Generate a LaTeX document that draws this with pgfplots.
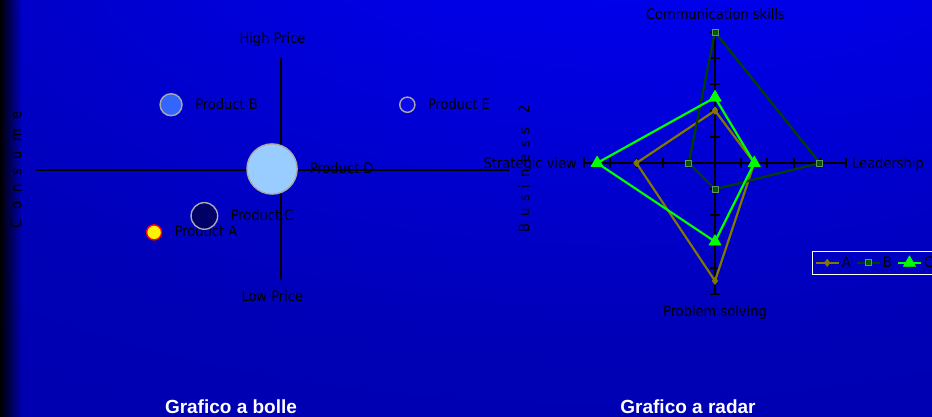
\documentclass[border=0pt]{standalone}
\usepackage{fontspec}
\setmainfont{DejaVu Sans Condensed}
\newfontfamily\titlefont{Liberation Sans}
\usepackage{pgfplots}
\pgfplotsset{compat=1.18}
\usetikzlibrary{fadings}
\definecolor{bgA}{RGB}{0,0,255}
\definecolor{bgB}{RGB}{0,0,230}
\definecolor{bgC}{RGB}{0,0,182}
\definecolor{bgD}{RGB}{0,0,156}
\definecolor{oliveA}{RGB}{128,120,0}
\definecolor{darkB}{RGB}{0,64,0}
\definecolor{markB}{RGB}{0,90,0}
\definecolor{markBd}{RGB}{100,150,100}
\definecolor{greenC}{RGB}{0,255,0}
\definecolor{bubB}{RGB}{51,102,255}
\definecolor{bubC}{RGB}{0,0,102}
\definecolor{bubD}{RGB}{153,204,255}
\definecolor{bubE}{RGB}{10,10,235}
\definecolor{bubedge}{RGB}{170,170,170}
\pgfdeclareradialshading{bgshade}{\pgfpoint{14bp}{50bp}}{color(0bp)=(bgA); color(18bp)=(bgB); color(42bp)=(bgC); color(85bp)=(bgD)}
\tikzfading[name=myfade, left color=transparent!0, right color=transparent!100]
\newcommand{\hs}{\hspace{9.2pt}}
\newcommand{\hb}{\hspace{6.8pt}}
\begin{document}
\begin{tikzpicture}[x=1pt,y=1pt,font=\fontsize{14.5}{17}\selectfont]
\useasboundingbox (0,0) rectangle (932,417);
\clip (0,0) rectangle (932,417);
\shade[shading=bgshade] (0,0) rectangle (932,417);
\fill[black, path fading=myfade] (0,0) rectangle (22,417);

% ---------- bubble chart ----------
\begin{axis}[at={(36pt,137pt)}, anchor=south west, scale only axis,
  width=473pt, height=222pt,
  xmin=-11.04, xmax=10.27, ymin=-4.955, ymax=5.045,
  axis lines=center, axis line style={-, line width=1.8pt, black},
  xtick=\empty, ytick=\empty, clip=false,
  nodes near coords style={anchor=base west, inner sep=0pt, yshift=-4.4pt, text=black}]
\addplot[only marks, mark=*, mark size=7.5pt, mark options={draw=red, fill=yellow, line width=1.4pt},
  nodes near coords={Product A}, nodes near coords style={xshift=20pt}] coordinates {(-5.72,-2.81)};
\addplot[only marks, mark=*, mark size=11pt, mark options={draw=bubedge, fill=bubB, line width=1.4pt},
  nodes near coords={Product B}, nodes near coords style={xshift=23.5pt}] coordinates {(-4.955,2.94)};
\addplot[only marks, mark=*, mark size=13.3pt, mark options={draw=bubedge, fill=bubC, line width=1.4pt},
  nodes near coords={Product C}, nodes near coords style={xshift=25.7pt}] coordinates {(-3.455,-2.07)};
\addplot[only marks, mark=*, mark size=25.1pt, mark options={draw=bubedge, fill=bubD, line width=1.4pt},
  nodes near coords={Product D}, nodes near coords style={xshift=37pt}] coordinates {(-0.405,0.045)};
\addplot[only marks, mark=*, mark size=7.6pt, mark options={draw=bubedge, fill=bubE, line width=1.4pt},
  nodes near coords={Product E}, nodes near coords style={xshift=20pt}] coordinates {(5.69,2.94)};
\end{axis}

% ---------- radar chart ----------
\begin{axis}[at={(584pt,123pt)}, anchor=south west, scale only axis,
  width=262pt, height=262pt,
  xmin=-5, xmax=5, ymin=-5, ymax=5,
  axis lines=center, axis line style={-, line width=2pt, black},
  xtick={-5,-4,-3,-2,-1,1,2,3,4,5}, ytick={-5,-4,-3,-2,-1,1,2,3,4,5},
  xticklabels={}, yticklabels={},
  major tick length=10pt, tick align=center, tick style={black, line width=2pt},
  clip=false,
  legend columns=-1,
  legend style={at={(0.870,0.166)}, anchor=north west, draw=white, line width=1.4pt, fill=none,
    inner xsep=2pt, inner ysep=3.5pt, font=\fontsize{14.5}{16}\selectfont,
    /tikz/every even column/.append style={column sep=3pt}},
  legend image code/.code={\draw[mark repeat=2,mark phase=2] plot coordinates {(0pt,0pt) (11.5pt,0pt) (23pt,0pt)};}]
\addplot[color=oliveA, line width=2.2pt, line join=round, mark=diamond*, mark size=3.5pt,
  mark options={fill=oliveA, solid, line width=0.8pt}] coordinates {(0,2) (1.5,0) (0,-4.5) (-3,0) (0,2)};
\addplot[color=darkB, line width=2.2pt, line join=round, mark=square*, mark size=3pt,
  mark options={fill=markB, draw=markBd, solid, line width=0.8pt}] coordinates {(0,5) (4,0) (0,-1) (-1,0) (0,5)};
\addplot[color=greenC, line width=2.2pt, line join=round, mark=triangle*, mark size=7pt,
  mark options={fill=greenC, solid, line width=0.6pt}] coordinates {(0,2.5) (1.5,0) (0,-3) (-4.5,0) (0,2.5)};
\legend{A,B,C}
\end{axis}

% ---------- labels ----------
\node[anchor=base, inner sep=0pt] at (272.5,373) {High Price};
\node[anchor=base, inner sep=0pt] at (272.3,115.3) {Low Price};
\node[rotate=90, inner sep=0pt] at (16,247) {C\hs o\hs n\hs s\hs u\hs m\hs e};
\node[rotate=90, inner sep=0pt] at (524,248) {B\hb u\hb s\hb i\hb n\hb e\hb s\hb s\hb\hb 2};
\node[anchor=base, inner sep=0pt] at (715.5,397) {Communication skills};
\node[anchor=base, inner sep=0pt] at (715,100.5) {Problem solving};
\node[anchor=base west, inner sep=0pt] at (852,248) {Leadership};
\node[anchor=base east, inner sep=0pt] at (577,248) {Strategic view};
\node[anchor=base, inner sep=0pt, text=white, font=\titlefont\bfseries\fontsize{19}{21}\selectfont] at (231,3.7) {Grafico a bolle};
\node[anchor=base, inner sep=0pt, text=white, font=\titlefont\bfseries\fontsize{19}{21}\selectfont] at (688,3.7) {Grafico a radar};
\end{tikzpicture}
\end{document}
